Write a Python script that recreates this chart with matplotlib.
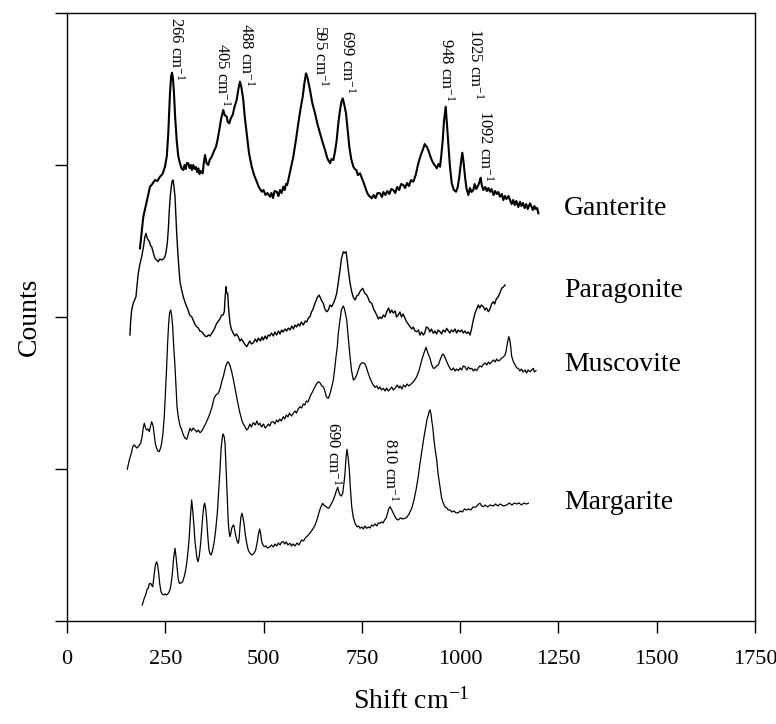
import matplotlib.pyplot as plt

plt.rcParams['font.family'] = ['Liberation Serif', 'DejaVu Serif']
plt.rcParams['mathtext.fontset'] = 'custom'
plt.rcParams['mathtext.rm'] = 'Liberation Serif'
plt.rcParams['mathtext.it'] = 'Liberation Serif:italic'

# Raman shift (cm-1) and stacked counts (arbitrary units, offsets included)
ganterite_x = [185.7, 194.1, 203, 211.2, 217, 223.9, 230, 236.6, 243, 249.3, 254, 257.7, 260, 262,
               265, 267.1, 269.5, 272.2, 275, 279, 283, 287.5, 291, 295.9, 299, 302, 305, 308.6,
               312, 315, 318, 321.3, 325, 328, 331, 334, 337, 340, 345.2, 348, 351.1, 355, 359.5,
               363, 368.1, 373, 379.1, 383, 387.5, 392, 397.6, 401, 406.3, 409, 412.9, 417, 421.5,
               426, 431.7, 436, 440.1, 444, 448.5, 452, 457.2, 463, 469.9, 476, 482.6, 488, 495.3,
               500, 505, 510, 516.4, 520, 524, 528, 533.5, 538, 542, 546, 550.3, 554, 557, 560, 563,
               568, 575.7, 582, 588.4, 594, 599.6, 604, 608, 612, 618.2, 624, 630.9, 637, 643.6,
               650, 656.4, 662, 669.1, 673, 677.5, 682, 686.1, 690, 694.5, 698, 701.4, 705, 709.8,
               714, 718.2, 723, 728.4, 732, 736, 740, 745.4, 750, 754, 758.1, 762, 765, 769, 775.2,
               780, 785, 790, 796.3, 801, 805, 810, 815, 820, 825, 830.1, 835, 840, 845, 850, 855.6,
               860, 865, 870, 875, 881, 887, 893.7, 900, 906.4, 910, 915.1, 920, 924, 927.8, 933,
               937, 940.5, 945, 948.9, 952, 955.8, 959, 963.4, 966, 970, 974, 978.7, 984, 989.6,
               994, 998, 1002, 1005.6, 1009, 1012.5, 1016, 1020.9, 1025, 1029, 1033.6, 1037, 1041,
               1046.4, 1050, 1052.5, 1055, 1059.1, 1064, 1068, 1072, 1076.1, 1080, 1085, 1089, 1093,
               1097, 1101.5, 1106, 1110, 1114, 1118, 1123, 1127, 1131, 1135, 1139, 1143, 1148,
               1152.4, 1156, 1160, 1164, 1168, 1172, 1177.9, 1182, 1185, 1189, 1192, 1196, 1199]
ganterite_y = [372.7, 404, 420, 434.3, 437, 441, 440, 444.3, 447, 454.3, 465, 487.7, 510, 527.7,
               545, 548.3, 543, 527.7, 505, 481, 465, 457.7, 453, 451, 456, 452, 458, 457.7,
               453, 456, 451, 456, 452, 454, 449, 452.7, 447, 450, 447.7, 458, 466, 458, 456,
               461, 464.3, 469, 474.3, 481, 491, 502, 511, 506, 504.3, 499, 497.7, 503, 506,
               514, 521, 532, 539.3, 533, 521, 505, 487.7, 468, 454.3, 446, 439.3, 434, 429.3,
               431, 426, 428, 424.3, 428, 423, 430, 429.3, 425, 431, 428, 434.3, 431, 437, 436, 441,
               450, 464.3, 480, 497.7, 512, 524.3, 538, 547.7, 543, 531, 518, 507.7, 497, 487.7,
               479, 471, 463, 457.7, 462, 461, 470, 481, 497, 511, 519, 522.7, 517, 507.7,
               491, 474.3, 462, 454.3, 452, 451, 446, 447.7, 443, 439, 434.3, 430, 427, 425, 422.7,
               426, 423, 428, 427.7, 424, 429, 426, 430, 427, 432, 431, 428, 434, 431, 437, 436,
               433, 438, 435, 441, 439.3, 446, 457.7, 466, 472.7, 477, 474.3, 470, 465, 461, 457,
               455, 452.7, 457, 454.3, 465, 481, 500, 514.3, 500, 477.7, 455, 437.7, 431, 429.3,
               434, 444.3, 458, 468.3, 458, 444.3, 433, 426, 433, 429, 431, 437, 432,
               436, 440, 443.3, 436, 431, 434, 430, 433, 429.3, 432, 426, 430, 427,
               429, 424.3, 427, 421, 425, 422, 425, 421, 417, 421, 416, 420, 414,
               419.3, 415, 418, 413, 417, 412, 417.7, 414, 411, 415, 412, 413, 407.7]

paragonite_x = [160.3, 162, 164.6, 168, 172, 175.5, 178, 181.4, 185, 190, 195, 198, 201, 204, 206.8,
                210, 213, 215.5, 219, 223.9, 228, 232.3, 236, 240.9, 245, 249.3, 252, 255.2, 258,
                260.3, 263, 265.3, 267.5, 269.7, 272, 274.8, 277, 279.1, 282, 285.7, 288, 291.8, 296,
                300, 304.5, 308, 312, 317.2, 321, 325, 330, 334, 338, 342.7, 347, 351, 355.4, 360,
                364, 368.1, 372, 376, 380.8, 385, 389, 393.6, 397, 400.2, 402, 404.5, 406.5, 408.8,
                411, 414.7, 418, 423.1, 427, 431, 435.8, 440, 444, 448.5, 452, 457.2, 461, 465, 469,
                474, 479, 483, 487, 492, 496, 499.4, 504, 508, 512, 516, 520, 525, 529, 533.5, 538,
                542, 546, 550, 555, 559, 563, 567.3, 572, 576, 580, 584, 588, 592, 596, 601.2, 606,
                610, 614, 618.2, 622, 626, 630.9, 636, 641.1, 645, 648, 652, 656, 660.7, 665, 669,
                673.4, 678, 682, 686.1, 690, 694.5, 698, 702.9, 706, 709.8, 713, 715.6, 720, 724.3,
                728, 732.7, 737, 741.1, 746, 752.3, 757, 762.4, 766, 770, 775.2, 780, 784, 787.9,
                792, 796, 800.6, 805, 809, 813.3, 818, 822, 826, 830, 835, 838, 842.8, 847, 851, 855,
                859.9, 864, 868, 872.6, 877, 881, 885, 889.6, 894, 898, 902, 906.4, 910, 914, 919.2,
                923, 927, 931.9, 936, 940, 944, 948.9, 953, 957, 962, 966, 970, 974, 978, 982.7, 987,
                991, 995, 999.8, 1004, 1008, 1012, 1016.8, 1021, 1025.2, 1029, 1033.6, 1038, 1042,
                1046.4, 1050, 1054, 1059.1, 1063, 1067, 1071.8, 1076, 1080, 1084.5, 1088, 1092,
                1097.2, 1101, 1105.8, 1110, 1114.3]
paragonite_y = [286, 300, 311, 317, 321, 324.3, 335, 347.7, 356, 364.3, 375, 384, 387.7, 383, 381,
                379, 375, 374.3, 369, 362.7, 361, 359.3, 362, 361, 362, 364.3, 369, 377.7, 393,
                411, 426, 434.3, 440, 441, 435, 424.3, 405, 387.7, 368, 347.7, 338, 331, 324,
                319, 314.3, 311, 306, 304.3, 301, 297, 294.3, 293, 290, 289.3, 287, 285, 284.3, 286,
                285, 287.7, 290, 293, 297.7, 300, 302, 306, 306, 309.3, 322, 334.3, 328, 327.7,
                313, 297.7, 292, 287.7, 285, 287, 284.3, 280, 282, 279.3, 277, 274.3, 277, 280, 277,
                278.3, 282, 279, 283, 280, 284, 281, 285, 282, 286, 285, 288, 285, 289, 286, 290,
                287, 291, 289, 292, 290, 293, 291, 295, 292, 296, 294, 297, 295, 299, 296, 300,
                299, 303, 304.3, 309, 312, 317.7, 323, 326, 323, 320, 317.7, 312, 309.3, 311, 316,
                314.3, 318, 322, 327.7, 338, 351, 362, 369.3, 368, 369.3, 360, 351, 338, 329.3,
                324, 321, 325, 326, 330, 332.7, 328, 326, 323, 319, 317.7, 312, 309, 306,
                302, 304, 302.7, 306, 304, 309.3, 313, 308, 311, 308, 310, 304, 306, 309, 304, 307,
                302.7, 299, 297, 294.3, 292, 294, 290, 289.3, 291, 286, 289, 286, 288, 294, 292.7,
                289, 292, 287.7, 290, 287, 291, 289.3, 287, 291, 289, 292.7, 290, 288, 291, 289.3, 292,
                288, 291, 289.3, 291, 288, 290, 287.7, 289, 286, 292, 301, 308, 312,
                316, 313, 316, 314.3, 311, 313, 309.3, 312, 317, 319.3, 317, 322,
                324.3, 328, 332.7, 334, 336]

muscovite_x = [153.4, 158, 164.6, 167, 170.4, 174, 177, 181.4, 184, 187.5, 191, 194, 196.7, 200,
               202.8, 206, 209.4, 212, 215.5, 217.5, 219.5, 222, 225, 228.2, 231, 234.8, 238, 240.9,
               244, 247.5, 250, 253.6, 256, 258.7, 261, 263.8, 266.5, 268.9, 271.5, 274.8, 278, 280,
               283.1, 287, 291.8, 296, 300, 304.5, 308, 312.9, 317, 321, 325.6, 330, 334, 338.4,
               343, 347, 351.1, 357, 363.8, 369, 374, 379, 384.9, 390, 394, 397.6, 401, 404, 408.8,
               412, 415, 419, 424, 429.9, 435, 440.1, 446, 452.8, 457, 461.2, 465, 469, 474, 479,
               483, 487, 491, 495, 500, 504, 508, 512, 516, 520, 524.8, 529, 533, 537, 541, 545,
               550.3, 554, 558, 562, 566, 571, 575.7, 580, 584, 588, 592.8, 597, 601, 605, 609,
               613, 618.2, 623, 628, 633, 639.3, 644, 648, 652, 656, 660, 664.8, 668, 671, 674,
               677.5, 681, 684, 687.6, 690, 694.5, 698, 702.9, 706, 709, 711.6, 714, 717, 720, 724,
               728.4, 732, 737, 741, 745.4, 749, 753.8, 758, 762.4, 766, 770.8, 775, 779, 783.6,
               788, 792, 796, 800, 804.7, 809, 813, 817, 821.7, 826, 830, 835, 840, 844, 847.2,
               852, 856, 861, 865, 870, 876.9, 883, 889.6, 896, 902.4, 908, 913.3, 918, 923.5,
               927, 931.9, 936, 940, 944.6, 950, 954, 957.3, 961, 966, 971, 975, 978.7, 983, 987,
               991, 995.5, 1000, 1004, 1008, 1012.5, 1017, 1021, 1025, 1029.6, 1034, 1038, 1042.3,
               1046, 1050, 1055, 1059.1, 1064, 1068, 1072, 1076, 1080.4, 1085, 1089, 1093, 1097,
               1101.5, 1106, 1110, 1114.3, 1117, 1120.2, 1123.7, 1126, 1128.8, 1131, 1135.4, 1140,
               1144, 1148.1, 1152, 1156, 1160, 1165.2, 1169, 1173, 1177.9, 1182, 1186.3, 1189,
               1193.1]
muscovite_y = [151.7, 160, 169.3, 174, 176, 175, 173, 174.3, 176, 177.7, 184, 193, 197.7, 193,
               191, 192, 189.3, 194, 199.3, 197, 194.3, 186, 177, 172.7, 170, 169.3, 173, 177.7,
               187, 204.3, 225, 254.3, 278, 297.7, 308, 311, 305, 294.3, 275, 254.3, 230, 214,
               204.3, 196, 191, 186, 183, 181.7, 186, 192.7, 190, 193, 191, 189, 191, 188.3,
               190, 193, 196, 201, 207.7, 214, 222.7, 226, 227.7, 233, 240, 244.3, 250, 255, 259.3,
               258, 255, 249.3, 240, 227.7, 217, 207.7, 199, 194.3, 191, 192.7, 197, 194, 198.3, 196,
               200, 196, 197.7, 194, 197, 193, 194.3, 197, 195, 199, 199.3, 197, 201, 199, 202, 200,
               204.3, 202, 206, 204, 208, 205, 207.7, 210, 208, 212, 214.3, 213, 217, 216, 220,
               219, 224.3, 228, 232, 236, 239.3, 238, 235, 234.3, 230, 224, 222.7, 226, 230, 235,
               241, 252, 263, 274.3, 287, 301, 311, 315, 312, 306, 301, 290, 277, 264.3, 250,
               241, 242, 246, 251, 256, 258, 258.3, 257, 252.7, 248, 242.7, 239, 236, 233.7,
               235, 232, 234, 231, 232.7, 230, 233, 230, 231.7, 234, 231, 233, 236, 233, 235,
               232, 236, 234, 237, 235, 237.7, 240, 244.3, 251, 261, 268, 273.7, 268, 262.7,
               257, 252.7, 253, 255, 256, 262, 266, 267, 264, 259.3, 255, 252, 251, 253, 250,
               252, 250.3, 253, 251, 255, 254.3, 251, 254, 252, 252.7, 250, 252, 250.3,
               253, 255, 254, 256.7, 258, 256, 259, 257, 259.3, 261, 259, 262, 260,
               261, 263, 264, 266, 270, 277.7, 284.3, 282, 274.3, 265, 259.3, 256,
               253, 252.7, 250, 252, 249, 251, 248, 251, 249.3, 251, 252.7, 249,
               250.3]

margarite_x = [191.6, 196, 201, 204, 206.8, 209, 212.9, 215, 218, 220, 222.1, 225, 228.2, 231, 233.3,
               236, 239.1, 242, 246.8, 250, 254, 257.7, 261, 263.8, 266.5, 268.9, 271.5, 274.8,
               277.5, 280.6, 283, 285.7, 290, 294.3, 298, 301, 304.5, 308, 311.1, 314, 317.2, 320,
               323.1, 325.5, 328.2, 330.5, 333.3, 336.5, 340.1, 343, 345.2, 348, 350.3, 353, 355.4,
               358.3, 361.2, 364, 366.3, 370, 374, 378, 382.4, 386, 389.2, 392, 394.3, 396, 397.6,
               400, 402, 404, 406.3, 408.5, 410.4, 412.5, 414.7, 417, 419, 421.5, 424.1, 427, 429.9,
               432.5, 435.8, 438, 440.1, 442.5, 445.2, 447.5, 450.3, 453.5, 457.2, 461, 465.6, 470,
               475.7, 480, 484.1, 487, 490.2, 492.8, 495.3, 498.5, 501.9, 506, 510, 516.4, 520, 525,
               529, 533.5, 538, 542, 546, 550.3, 554, 558, 562, 567.3, 571, 575, 580, 585, 590, 594,
               597.1, 602, 606, 609.8, 614, 618, 622, 626.6, 631, 635, 639.3, 643, 647, 650.5, 653,
               656.4, 660, 664.8, 668, 672, 677.5, 682, 685, 688.7, 691.5, 694.5, 698, 701.4, 704,
               707.2, 709.5, 712.3, 715, 718.2, 721, 724.3, 728, 732.7, 738, 742, 745.4, 750, 754,
               758, 762.4, 767, 771, 775, 779.2, 784, 788, 792, 796.3, 800, 804, 808, 811.5, 815,
               818, 821.7, 825, 830.1, 835, 838, 842.8, 848, 854, 859.9, 865, 870, 876.9, 882,
               887.9, 893, 898, 903, 908.2, 913, 916, 919.2, 921.5, 923.5, 926, 928, 930.3, 933,
               936, 940.5, 944, 948.9, 953, 957.3, 962, 966, 970, 974.4, 979, 984, 990, 995.5, 1000,
               1006, 1011, 1016.8, 1022, 1027, 1033, 1038, 1043, 1047, 1050.7, 1055, 1059.1, 1064,
               1070, 1076, 1084.5, 1090, 1096, 1102, 1110, 1118.6, 1125, 1132, 1138, 1144, 1150,
               1156, 1162, 1168, 1173.5]
margarite_y = [16, 22, 27, 32, 32.7, 37, 37.7, 36, 34.3, 40, 47.7, 56, 59.3, 55, 47.7,
               37, 29.3, 27, 26, 27, 26, 27.7, 30, 34.3, 42, 51, 64, 72.7,
               64, 51, 42, 37.7, 38, 39.3, 44, 49, 57.7, 70, 84.3, 104, 121, 110,
               94.3, 80, 71, 63, 59.3, 65, 77.7, 93, 104.3, 115, 117.7, 112, 101,
               84, 71, 67, 66, 70, 77.7, 90, 107.7, 130, 151, 172, 181, 186, 187,
               184, 177.7, 160, 137.7, 115, 97.7, 89, 84.3, 88, 92.7, 95, 96, 90, 84.3,
               80, 77.7, 83, 94.3, 104, 107.7, 104, 97.7, 87, 77.7, 71, 67.7, 66,
               67.7, 71, 79.3, 87, 92, 87, 79.3, 76, 74.3, 75, 73, 74.3, 76, 74,
               77, 75, 78, 76, 79, 79.3, 77, 79, 76, 77.7, 75, 77, 75, 78, 76, 79,
               81, 80, 83, 84.3, 86, 88, 90, 92.7, 96, 100, 106, 111, 115, 117.7, 116,
               115, 114, 112.7, 114, 117, 121, 126, 130, 133.7, 129, 126, 125, 127.7, 136,
               147.7, 162, 171.7, 164, 151, 132, 114.3, 104, 97.7, 94, 95, 92.7, 94, 92,
               95, 92.7, 94, 93, 96, 95, 97, 95, 98, 97.7, 99, 98, 101, 102.7, 107,
               112, 114.3, 112, 107.7, 104, 102, 101, 103, 102, 102.7, 104, 107, 112.7, 120,
               131, 143, 157.7, 171, 184.3, 195, 202, 206, 210, 211, 207, 200, 194.3, 183,
               173, 161, 147, 134.3, 123, 117.7, 114, 113, 111, 111, 109, 110, 108, 108.3, 110,
               109, 112, 111, 112, 111, 114, 113.7, 115, 117, 117.7, 115, 114.3, 116,
               114, 116, 115, 117, 115, 117, 115, 116, 118, 116, 118, 117, 118,
               116, 118, 117, 117.7]

names = ['Ganterite', 'Paragonite', 'Muscovite', 'Margarite']
name_y = [413, 331, 256, 118]

peak_labels = ['266', '405', '488', '595', '699', '948', '1025', '1092', '690', '810']
peak_x = [279, 394, 457, 643, 712, 966, 1038, 1063, 677, 822]
peak_top = [604, 578, 598, 596, 591, 583, 593, 511, 199, 183]

fig = plt.figure(figsize=(7.76, 7.24), dpi=100)
ax = fig.add_axes([0.0863, 0.1423, 0.8866, 0.8397])

ax.plot(ganterite_x, ganterite_y, color='black', lw=1.5)
ax.plot(paragonite_x, paragonite_y, color='black', lw=1.0)
ax.plot(muscovite_x, muscovite_y, color='black', lw=0.9)
ax.plot(margarite_x, margarite_y, color='black', lw=0.9)

for n, y in zip(names, name_y):
    ax.text(1264, y, n, fontsize=20, va='center', ha='left')

for lab, x, y in zip(peak_labels, peak_x, peak_top):
    ax.text(x, y, lab + ' cm$^{-1}$', fontsize=12, rotation=270, ha='center', va='top')

ax.set_xlim(0, 1750)
ax.set_ylim(0, 608)
ax.set_xticks(range(0, 1751, 250))
ax.set_yticks([0, 152, 304, 456, 608])
ax.set_yticklabels([])
ax.tick_params(direction='out', length=8.6, width=1, labelsize=16)
ax.tick_params(axis='x', pad=12)
for s in ax.spines.values():
    s.set_linewidth(1)

ax.set_xlabel('Shift cm$^{-1}$', fontsize=20, labelpad=14)
ax.set_ylabel('Counts', fontsize=20, labelpad=6)

fig.savefig('out.png', dpi=100)
